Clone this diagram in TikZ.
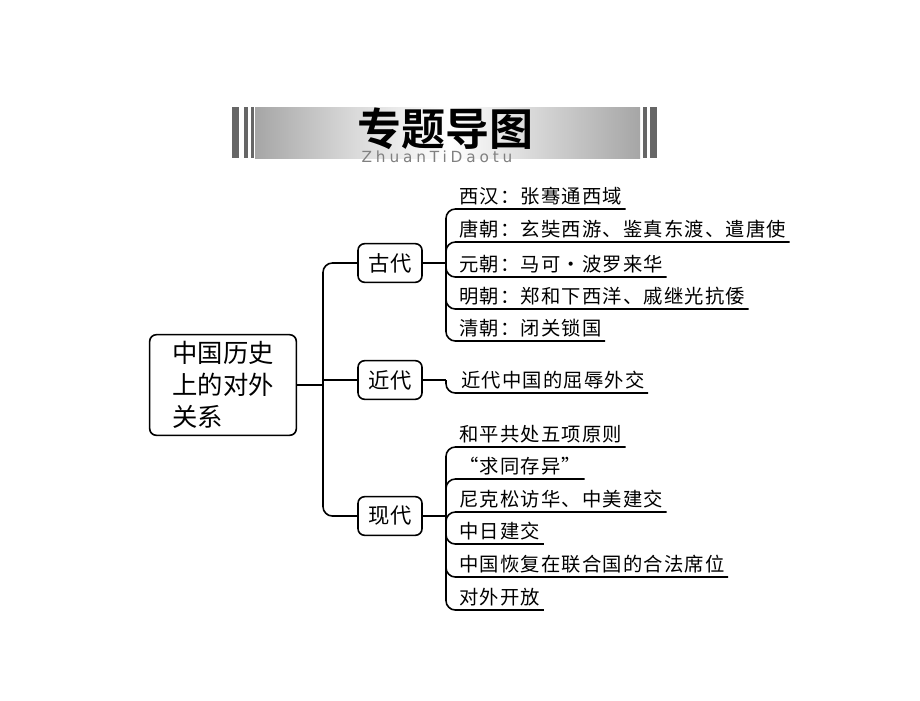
\documentclass[tikz,border=0pt]{standalone}
\usepackage{fontspec}
\setmainfont{Noto Sans CJK SC}
\newfontfamily\cjkbold{Noto Sans CJK SC Bold}
\newfontfamily\leaffont[LetterSpace=6]{Noto Sans CJK SC}
\newfontfamily\subfont[LetterSpace=25]{DejaVu Sans}
\usetikzlibrary{positioning}

\begin{document}
\begin{tikzpicture}[
            x = 0.75pt, y = -0.75pt, % pixel grid, y downwards
            line width = 1.2pt,
            box/.style = {draw, rounded corners = 5pt, inner sep = 5pt},
            cat/.style = {box, minimum width = 48pt, minimum height = 29pt, font = \fontsize{16}{16}\selectfont},
            leaf/.style = {anchor = south west, inner sep = 2pt, font = \leaffont\fontsize{14.5}{16}\selectfont},
            link/.style = {rounded corners = 7pt}
        ]

        \useasboundingbox (0,0) rectangle (920,700);

        % title banner
        \shade[left color = gray!70, right color = white, middle color = gray!30] (255,107) rectangle (450,158);
        \shade[left color = white, right color = gray!70] (450,107) rectangle (640,158);
        \foreach \x/\w in {232/7, 244/4, 251/3, 643/4, 650/7} {
            \fill[gray!80!black] (\x,107) rectangle ++(\w,51);
        }
        \node[font = \cjkbold\fontsize{33}{33}\selectfont] (title) at (445,129) {专题导图};
        \node[font = \subfont\fontsize{11.5}{12}\selectfont, text = gray, inner sep = 0pt] (sub) at (437,157) {ZhuanTiDaotu};

        % main nodes
        \node[box, align = left, font = \fontsize{19}{24}\selectfont, minimum width = 110pt, minimum height = 72pt] (root) at (223,385) {中国历史\\上的对外\\关系};
        \node[cat] (gu) at (390,263) {古代};
        \node[cat] (jin) at (390,380) {近代};
        \node[cat] (xian) at (390,516) {现代};

        \coordinate (trunk) at (323,385);
        \draw (root.east) -- (trunk);
        \draw[link] (trunk) |- (gu.west);
        \draw[link] (trunk) |- (xian.west);
        \draw (trunk) |- (jin.west);

        % ancient
        \coordinate (jgu) at (446,263);
        \draw (gu.east) -- (jgu);
        \foreach \i/\y/\t in {1/209/西汉：张骞通西域, 2/242/唐朝：玄奘西游、鉴真东渡、遣唐使,
                              3/277/元朝：马可·波罗来华, 4/309/明朝：郑和下西洋、戚继光抗倭,
                              5/341/清朝：闭关锁国} {
            \node[leaf] (g\i) at (456,\y) {\t};
            \draw[link] (jgu) |- (g\i.south east);
        }

        % modern
        \coordinate (jjin) at (446,380);
        \draw (jin.east) -- (jjin);
        \node[leaf] (j1) at (458,393) {近代中国的屈辱外交};
        \draw[link] (jjin) |- (j1.south east);

        % contemporary
        \coordinate (jxian) at (446,516);
        \draw (xian.east) -- (jxian);
        \foreach \i/\y/\t in {1/447/和平共处五项原则, 2/479/“求同存异”, 3/512/尼克松访华、中美建交,
                              4/544/中日建交, 5/577/中国恢复在联合国的合法席位, 6/610/对外开放} {
            \node[leaf] (x\i) at (456,\y) {\t};
            \draw[link] (jxian) |- (x\i.south east);
        }

    \end{tikzpicture}
\end{document}
